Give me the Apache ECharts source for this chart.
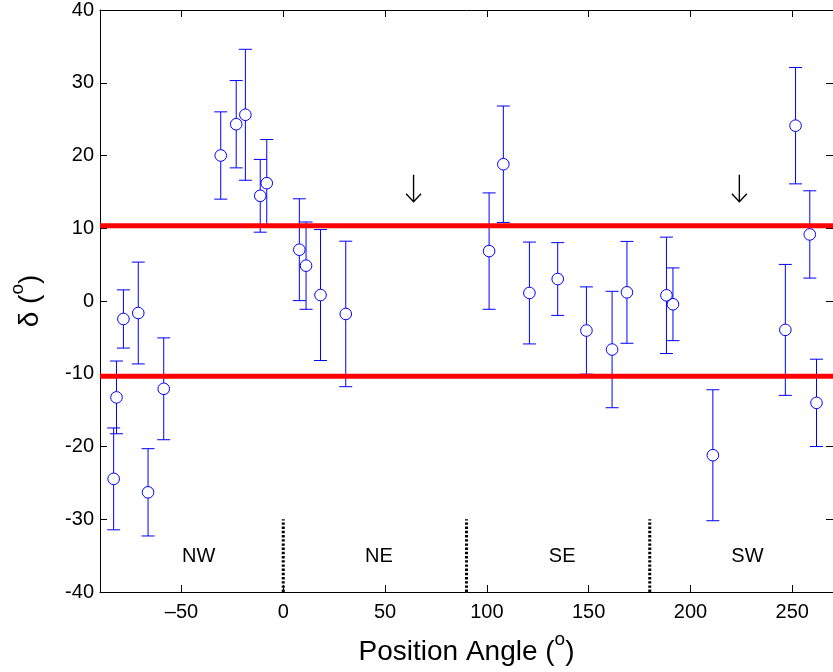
<!DOCTYPE html>
<html>
<head>
<meta charset="utf-8">
<script src="https://cdn.jsdelivr.net/npm/echarts@6/dist/echarts.min.js"></script>
<style>
html,body{margin:0;padding:0;background:#fff;}
#chart{width:833px;height:672px;}
</style>
</head>
<body>
<div id="chart"></div>
<script>
// Data
var positionAngle = [-83.3, -81.9, -78.5, -71.2, -66.4, -58.7, -30.7, -23.1, -18.6, -11.3, -8.1, 7.9, 11.2, 18.3, 30.7, 101.1, 108.1, 120.9, 134.8, 148.9, 161.5, 168.8, 188.2, 191.4, 211.0, 246.6, 251.6, 258.6, 261.9];
var deltaValues   = [-24.45, -13.25, -2.47, -1.65, -26.3, -12.07, 20.0, 24.3, 25.6, 14.46, 16.2, 7.05, 4.86, 0.82, -1.78, 6.86, 18.8, 1.1, 3.02, -4.06, -6.67, 1.19, 0.78, -0.45, -21.2, -3.97, 24.1, 9.15, -14.0];
var deltaErrors   = [7, 5, 4, 7, 6, 7, 6, 6, 9, 5, 6, 7, 6, 9, 10, 8, 8, 7, 5, 6, 8, 7, 8, 5, 9, 9, 8, 6, 6];
var thresholds = [10.35, -10.35];
var dividerAngles = [0, 90, 180];
var dividerRange = [-40, -30];
var sectorNames = ['NW', 'NE', 'SE', 'SW'];
var sectorLabelAngles = [-41.5, 47, 137, 228];
var sectorLabelDelta = -35.1;
var arrowAngles = [64, 224];
var arrowDelta = 15.5;
var xTicks = [-50, 0, 50, 100, 150, 200, 250];
var xRange = [-90, 270];
var yRange = [-40, 40];
var yStep = 10;

var FONT = 'Liberation Sans';
var chart = echarts.init(document.getElementById('chart'), null, {renderer: 'canvas'});

var errData = positionAngle.map(function (p, i) { return [p, deltaValues[i], deltaErrors[i]]; });

var series = [];
series.push({
  type: 'custom',
  data: errData,
  z: 3,
  clip: true,
  renderItem: function (params, api) {
    var x = api.value(0), y = api.value(1), e = api.value(2);
    var c = api.coord([x, y]);
    var t = api.coord([x, y + e]);
    var b = api.coord([x, y - e]);
    var r = 5.8, hw = 6.5;
    var st = {stroke: '#0000ff', lineWidth: 1, fill: null};
    return {
      type: 'group',
      children: [
        {type: 'line', shape: {x1: c[0] - hw, y1: t[1], x2: c[0] + hw, y2: t[1]}, style: st},
        {type: 'line', shape: {x1: c[0] - hw, y1: b[1], x2: c[0] + hw, y2: b[1]}, style: st},
        {type: 'line', shape: {x1: c[0], y1: t[1], x2: c[0], y2: c[1] - r}, style: st},
        {type: 'line', shape: {x1: c[0], y1: c[1] + r, x2: c[0], y2: b[1]}, style: st},
        {type: 'circle', shape: {cx: c[0], cy: c[1], r: r}, style: {stroke: '#0000ff', lineWidth: 1, fill: 'none'}}
      ]
    };
  }
});

thresholds.forEach(function (th) {
  series.push({
    type: 'line',
    data: [[xRange[0], th], [xRange[1], th]],
    symbol: 'none',
    z: 5,
    lineStyle: {color: '#ff0000', width: 5},
    silent: true
  });
});

dividerAngles.forEach(function (d) {
  series.push({
    type: 'line',
    data: [[d, dividerRange[0]], [d, dividerRange[1]]],
    symbol: 'none',
    z: 4,
    lineStyle: {color: '#000', width: 3, type: [2.4, 1.8]},
    silent: true
  });
});

series.push({
  type: 'custom',
  data: sectorLabelAngles.map(function (a, i) { return [a, sectorLabelDelta, i]; }),
  z: 6,
  silent: true,
  renderItem: function (params, api) {
    var c = api.coord([api.value(0), api.value(1)]);
    return {
      type: 'text',
      x: c[0], y: c[1],
      style: {text: sectorNames[api.value(2)], fill: '#000', font: '20px "Liberation Sans"', textAlign: 'center', textVerticalAlign: 'middle'}
    };
  }
});

series.push({
  type: 'custom',
  data: arrowAngles.map(function (a) { return [a, arrowDelta]; }),
  z: 6,
  renderItem: function (params, api) {
    var c = api.coord([api.value(0), api.value(1)]);
    var top = c[1] - 13.5, bot = c[1] + 13.5;
    var st = {stroke: '#000', lineWidth: 1.4, fill: null};
    return {
      type: 'group',
      children: [
        {type: 'line', shape: {x1: c[0], y1: top, x2: c[0], y2: bot}, style: st},
        {type: 'polyline', shape: {points: [[c[0] - 7.5, bot - 8], [c[0], bot], [c[0] + 7.5, bot - 8]]}, style: st}
      ]
    };
  }
});

var axisLineStyle = {color: '#000', width: 1};
var option = {
  backgroundColor: '#fff',
  animation: false,
  grid: {left: 96, right: -4, top: 9, bottom: 80, containLabel: false},
  xAxis: [{
    type: 'value', min: xRange[0], max: xRange[1], position: 'bottom',
    axisLine: {show: true, onZero: false, lineStyle: axisLineStyle},
    axisTick: {show: true, inside: true, length: 7, customValues: xTicks, lineStyle: axisLineStyle},
    axisLabel: {show: true, customValues: xTicks, margin: 10, color: '#000', fontFamily: FONT, fontSize: 20,
      formatter: function (v) { return String(v).replace('-', '\u2013'); }},
    splitLine: {show: false},
    name: '{n|Position Angle (}{s|o}{n|)}',
    nameLocation: 'middle', nameGap: 38,
    nameTextStyle: {color: '#000', fontFamily: FONT, fontSize: 28,
      rich: {n: {fontFamily: FONT, fontSize: 28, color: '#000', lineHeight: 36, verticalAlign: 'bottom'},
             s: {fontFamily: FONT, fontSize: 19, color: '#000', lineHeight: 36, verticalAlign: 'top'}}}
  }, {
    type: 'value', min: xRange[0], max: xRange[1], position: 'top',
    axisLine: {show: true, onZero: false, lineStyle: axisLineStyle},
    axisTick: {show: true, inside: true, length: 7, customValues: xTicks, lineStyle: axisLineStyle},
    axisLabel: {show: false},
    splitLine: {show: false}
  }],
  yAxis: [{
    type: 'value', min: yRange[0], max: yRange[1], interval: yStep, position: 'left',
    axisLine: {show: true, onZero: false, lineStyle: axisLineStyle},
    axisTick: {show: true, inside: true, length: 7, lineStyle: axisLineStyle},
    axisLabel: {show: true, margin: 6, color: '#000', fontFamily: FONT, fontSize: 20},
    splitLine: {show: false},
    name: '{n|\u03b4 (}{s|o}{n|)}',
    nameLocation: 'middle', nameGap: 56, nameRotate: 90,
    nameTextStyle: {color: '#000', fontFamily: FONT, fontSize: 28,
      rich: {n: {fontFamily: FONT, fontSize: 28, color: '#000', lineHeight: 36, verticalAlign: 'bottom'},
             s: {fontFamily: FONT, fontSize: 19, color: '#000', lineHeight: 36, verticalAlign: 'top'}}}
  }, {
    type: 'value', min: yRange[0], max: yRange[1], interval: yStep, position: 'right',
    axisLine: {show: true, onZero: false, lineStyle: axisLineStyle},
    axisTick: {show: true, inside: true, length: 7, lineStyle: axisLineStyle},
    axisLabel: {show: false},
    splitLine: {show: false}
  }],
  series: series
};
chart.setOption(option);
</script>
</body>
</html>
